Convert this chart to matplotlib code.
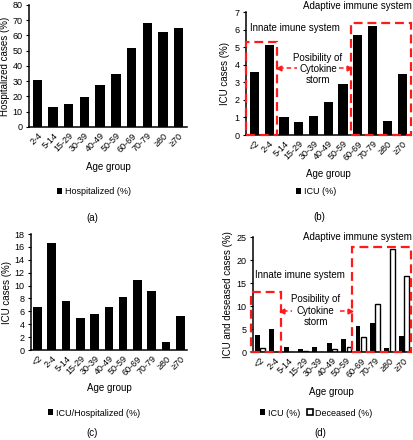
import matplotlib
matplotlib.use("Agg")
import matplotlib.pyplot as plt
from matplotlib.patches import Rectangle, Patch
import numpy as np

plt.rcParams['font.family'] = ['Liberation Sans', 'DejaVu Sans']
plt.rcParams['font.size'] = 6.5

# data
ages_a = ['2-4', '5-14', '15-29', '30-39', '40-49', '50-59', '60-69', '70-79', '≥80', '≥70']
hospitalized = [30.5, 13, 15, 19.5, 27.5, 34.5, 52, 68, 62, 65]

ages = ['<2', '2-4', '5-14', '15-29', '30-39', '40-49', '50-59', '60-69', '70-79', '≥80', '≥70']
icu = [3.6, 5.1, 1.0, 0.75, 1.1, 1.85, 2.9, 5.7, 6.2, 0.8, 3.5]
icu_hosp = [6.7, 16.6, 7.6, 4.9, 5.6, 6.6, 8.2, 10.8, 9.1, 1.2, 5.2]
deceased = [0.9, 0.0, 0.0, 0.3, 0.0, 0.6, 1.0, 3.2, 10.5, 22.3, 16.5]

RED = '#ff1a1a'
W, H = 414, 440
fig = plt.figure(figsize=(W / 100, H / 100), dpi=100)


def axes_px(left, right, top, bottom):
    return fig.add_axes([left / W, 1 - bottom / H, (right - left) / W, (bottom - top) / H])


def style(ax, labels):
    for s in ('top', 'right'):
        ax.spines[s].set_visible(False)
    for s in ('left', 'bottom'):
        ax.spines[s].set_linewidth(1.1)
    ax.set_xticks(range(len(labels)))
    ax.set_xticklabels(labels, rotation=45, ha='right', rotation_mode='anchor')
    ax.tick_params(axis='x', length=0, pad=3)
    ax.tick_params(axis='y', length=2.5, width=0.8, pad=2)


def legend(ax, handles, labels, x, y):
    ax.legend(handles, labels, loc='center', bbox_to_anchor=(x / W, 1 - y / H),
              bbox_transform=fig.transFigure, frameon=False, ncol=len(handles),
              handlelength=0.6, handleheight=0.6, handletextpad=0.3, columnspacing=0.8,
              fontsize=6.5)


def boxes(ax, left_box, right_box, arrow_y, gap, txt_xy, innate_xy, adaptive_xy):
    for (x0, x1, top) in (left_box, right_box):
        ax.add_patch(Rectangle((x0, 0), x1 - x0, top, fill=False, edgecolor=RED,
                               linewidth=1.6, linestyle=(0, (4, 2.2)), clip_on=False, zorder=4))
    dash = dict(color=RED, linewidth=1.1, linestyle=(0, (3, 2)), zorder=3)
    ax.plot([left_box[1] + 0.15, gap[0]], [arrow_y, arrow_y], **dash)
    ax.plot([gap[1], right_box[0] - 0.15], [arrow_y, arrow_y], **dash)
    ax.plot([left_box[1] + 0.12], [arrow_y], marker='<', color=RED, markersize=3.5, zorder=3)
    ax.plot([right_box[0] - 0.12], [arrow_y], marker='>', color=RED, markersize=3.5, zorder=3)
    ax.text(txt_xy[0], txt_xy[1], 'Posibility of\nCytokine\nstorm', ha='center', va='center',
            fontsize=7, linespacing=1.15, zorder=5)
    ax.text(innate_xy[0], innate_xy[1], 'Innate imune system', ha='center', va='center',
            fontsize=7, zorder=5)
    ax.text(adaptive_xy[0], adaptive_xy[1], 'Adaptive immune system', ha='center', va='center',
            fontsize=7, clip_on=False, zorder=5)


# (a)
ax = axes_px(29, 187, 5, 127)
x = np.arange(len(ages_a))
ax.bar(x, hospitalized, width=0.6, color='black')
ax.set_xlim(-0.53, len(ages_a) - 0.47)
ax.set_ylim(0, 80)
ax.set_yticks(range(0, 81, 10))
ax.set_ylabel('Hospitalized cases (%)', labelpad=2, fontsize=7)
style(ax, ages_a)
fig.text(108 / W, 1 - 167 / H, 'Age group', ha='center', va='center', fontsize=7)
legend(ax, [Patch(facecolor='black')], ['Hospitalized (%)'], 94, 192)
fig.text(92 / W, 1 - 218 / H, '(a)', ha='center', va='center', fontsize=7)

# (b)
ax = axes_px(246, 411, 12, 135)
x = np.arange(len(ages))
ax.bar(x, icu, width=0.62, color='black')
ax.set_xlim(-0.57, 10.6)
ax.set_ylim(0, 7)
ax.set_yticks(range(0, 8))
ax.set_ylabel('ICU cases (%)', labelpad=3, fontsize=7)
style(ax, ages)
boxes(ax, (-0.57, 1.52, 5.3), (6.54, 10.6, 6.38), 3.82, (2.85, 5.75),
      (4.3, 3.75), (2.76, 6.1), (6.95, 7.33))
fig.text(328 / W, 1 - 174 / H, 'Age group', ha='center', va='center', fontsize=7)
legend(ax, [Patch(facecolor='black')], ['ICU (%)'], 316, 192)
fig.text(319 / W, 1 - 217 / H, '(b)', ha='center', va='center', fontsize=7)

# (c)
ax = axes_px(31, 187, 234, 350)
ax.bar(x, icu_hosp, width=0.6, color='black')
ax.set_xlim(-0.45, 10.47)
ax.set_ylim(0, 18)
ax.set_yticks(range(0, 19, 2))
ax.set_ylabel('ICU cases (%)', labelpad=2, fontsize=7)
style(ax, ages)
fig.text(109 / W, 1 - 388 / H, 'Age group', ha='center', va='center', fontsize=7)
legend(ax, [Patch(facecolor='black')], ['ICU/Hospitalized (%)'], 94, 413)
fig.text(92 / W, 1 - 433 / H, '(c)', ha='center', va='center', fontsize=7)

# (d)
ax = axes_px(253, 411, 237, 352)
bw = 0.34
ax.bar(x - bw / 2 - 0.02, icu, width=bw, color='black')
ax.bar(x + bw / 2 + 0.02, deceased, width=bw, color='white', edgecolor='black', linewidth=1.0)
ax.set_xlim(-0.49, 10.5)
ax.set_ylim(0, 25)
ax.set_yticks(range(0, 26, 5))
ax.set_ylabel('ICU and deseased cases (%)', labelpad=3, fontsize=7)
style(ax, ages)
boxes(ax, (-0.6, 1.43, 13.0), (6.37, 10.5, 22.8), 9.0, (2.2, 5.55),
      (3.87, 9.0), (2.78, 16.7), (6.8, 25.1))
fig.text(331 / W, 1 - 392 / H, 'Age group', ha='center', va='center', fontsize=7)
legend(ax, [Patch(facecolor='black'), Patch(facecolor='white', edgecolor='black', linewidth=1.2)],
       ['ICU (%)', 'Deceased (%)'], 316, 413)
fig.text(320 / W, 1 - 433 / H, '(d)', ha='center', va='center', fontsize=7)

fig.savefig('out.png', dpi=100, facecolor='white')
